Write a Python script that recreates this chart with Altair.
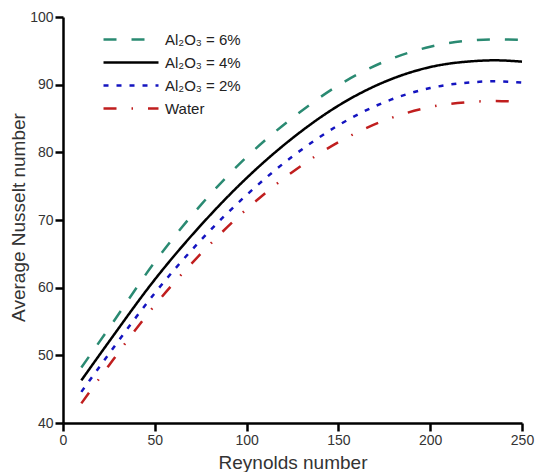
import altair as alt
import pandas as pd

# Reynolds numbers sampled along each curve
reynolds = [10, 25, 50, 75, 100, 125, 150, 175, 200, 225, 235, 250]

# Average Nusselt number per fluid
nu_6 = [48.2, 54.0, 63.8, 72.2, 79.3, 85.1, 89.9, 93.4, 95.6, 96.6, 96.7, 96.6]
nu_4 = [46.3, 52.0, 61.2, 69.2, 76.2, 82.1, 86.9, 90.4, 92.6, 93.5, 93.6, 93.4]
nu_2 = [44.6, 50.2, 59.2, 67.0, 73.7, 79.4, 84.0, 87.4, 89.5, 90.4, 90.5, 90.3]
nu_water = [42.9, 48.5, 57.4, 65.0, 71.6, 77.1, 81.5, 84.7, 86.7, 87.5, 87.6, 87.4]

series_names = ["Al₂O₃ = 6%", "Al₂O₃ = 4%", "Al₂O₃ = 2%", "Water"]
series_values = [nu_6, nu_4, nu_2, nu_water]
series_colors = ["#2a8a72", "#000000", "#1414c0", "#c01e1e"]
series_dashes = [[13, 15], [1, 0], [5, 8], [13, 15, 1.5, 15]]

# Labelled axis values
x_major = [0, 50, 100, 150, 200, 250]
y_major = [40, 50, 60, 70, 80, 90, 100]

W, H = 459, 406
X_MIN, X_MAX, Y_MIN, Y_MAX = 0, 250, 40, 100
TICK_LEN = 8  # tick length in pixels
FONT = "Liberation Sans"

rows = []
for name, vals in zip(series_names, series_values):
    for re_, nu in zip(reynolds, vals):
        rows.append({"Re": re_, "Nu": nu, "fluid": name})
df = pd.DataFrame(rows)

x_axis = alt.Axis(
    title="Reynolds number", values=x_major, ticks=True, tickSize=TICK_LEN,
    tickWidth=2.5, tickColor="black", tickCap="butt",
    grid=False, domainColor="black", domainWidth=2.5, labelFont=FONT, labelFontSize=14,
    labelColor="#333333", labelPadding=2, titleFont=FONT, titleFontSize=19,
    titleFontWeight="normal", titleColor="#333333", titleX=229.5, titleY=45,
    titleBaseline="alphabetic", titleAlign="center", labelFlush=False,
)
y_axis = alt.Axis(
    title="Average Nusselt number", values=y_major, ticks=True, tickSize=TICK_LEN,
    tickWidth=2.5, tickColor="black", tickCap="butt",
    grid=False, domainColor="black", domainWidth=2.5, labelFont=FONT, labelFontSize=14,
    labelColor="#333333", labelPadding=2, titleFont=FONT, titleFontSize=19,
    titleFontWeight="normal", titleColor="#333333", titleX=-38.5, titleY=200,
    titleAngle=270, titleBaseline="alphabetic", titleAlign="center", labelFlush=False,
)

# horizontal line glyph for the legend keys
legend = alt.Legend(
    title=None, orient="none", legendX=53, legendY=7.5, symbolType="M-2,0H2",
    symbolSize=756, symbolStrokeWidth=2.5, labelFont=FONT, labelFontSize=15,
    labelColor="#222222", labelOffset=19, rowPadding=0,
)

chart = alt.Chart(df).mark_line(strokeWidth=2.5, interpolate="monotone").encode(
    x=alt.X("Re:Q", scale=alt.Scale(domain=[X_MIN, X_MAX], nice=False, zero=False), axis=x_axis),
    y=alt.Y("Nu:Q", scale=alt.Scale(domain=[Y_MIN, Y_MAX], nice=False, zero=False), axis=y_axis),
    color=alt.Color(
        "fluid:N",
        scale=alt.Scale(domain=series_names, range=series_colors),
        legend=legend,
    ),
    strokeDash=alt.StrokeDash(
        "fluid:N",
        scale=alt.Scale(domain=series_names, range=series_dashes),
        legend=legend,
    ),
).properties(
    width=W, height=H,
    autosize="none",
    padding={"left": 63, "top": 17, "right": 13, "bottom": 49},
    background="white",
).configure_view(stroke=None)

chart.save("out.html", embed_options={"renderer": "svg", "actions": False})
